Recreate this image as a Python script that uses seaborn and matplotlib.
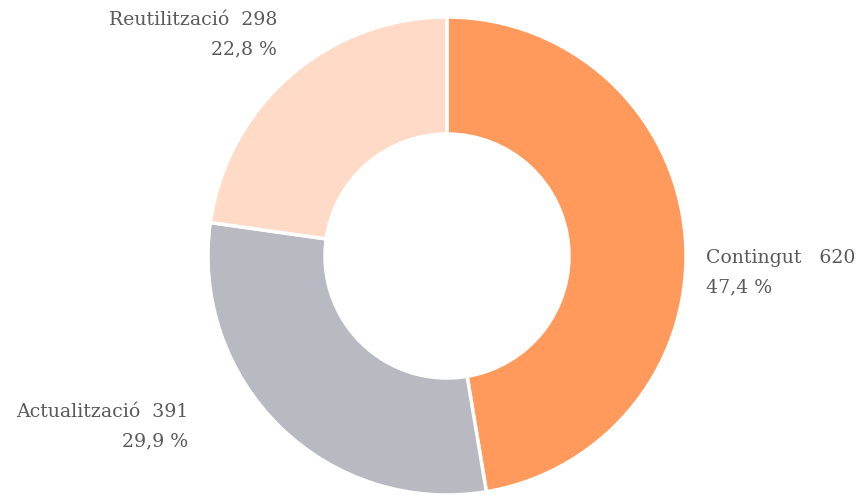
import matplotlib
matplotlib.use("Agg")
import matplotlib.pyplot as plt
import seaborn as sns

categories = ["Contingut", "Actualització", "Reutilització"]
counts = [620, 391, 298]
percent_labels = ["47,4 %", "29,9 %", "22,8 %"]
colors = ["#FF9A5C", "#B9BAC1", "#FFDBC7"]

sns.set_theme(style="white")
plt.rcParams["font.family"] = ["DejaVu Serif", "DejaVu Sans"]

W, H = 861, 495
fig = plt.figure(figsize=(W / 100, H / 100), dpi=100)
ax = fig.add_axes([0, 0, 1, 1])

# pixel-like coordinates, y measured from the top of the canvas
cx, cy, r_out, r_in = 447, 256, 239, 122
ax.pie(
    counts,
    colors=colors,
    startangle=90,
    counterclock=False,
    center=(cx, H - cy),
    radius=r_out,
    wedgeprops=dict(width=r_out - r_in, edgecolor="white", linewidth=2.5),
    frame=True,
)
ax.set_xlim(0, W)
ax.set_ylim(0, H)
ax.set_aspect("equal")
ax.axis("off")

label_pos = {
    "Contingut": (706, 258, "left"),
    "Actualització": (188, 412, "right"),
    "Reutilització": (277, 20, "right"),
}
gaps = {"Contingut": "   ", "Actualització": "  ", "Reutilització": "  "}
text_kw = dict(fontsize=13.6, color="#5a5a5a", va="center")
for name, n, pct in zip(categories, counts, percent_labels):
    x, y, ha = label_pos[name]
    ax.text(x, H - y, f"{name}{gaps[name]}{n}", ha=ha, **text_kw)
    ax.text(x, H - y - 29, pct, ha=ha, **text_kw)

fig.savefig("out.png", dpi=100)
